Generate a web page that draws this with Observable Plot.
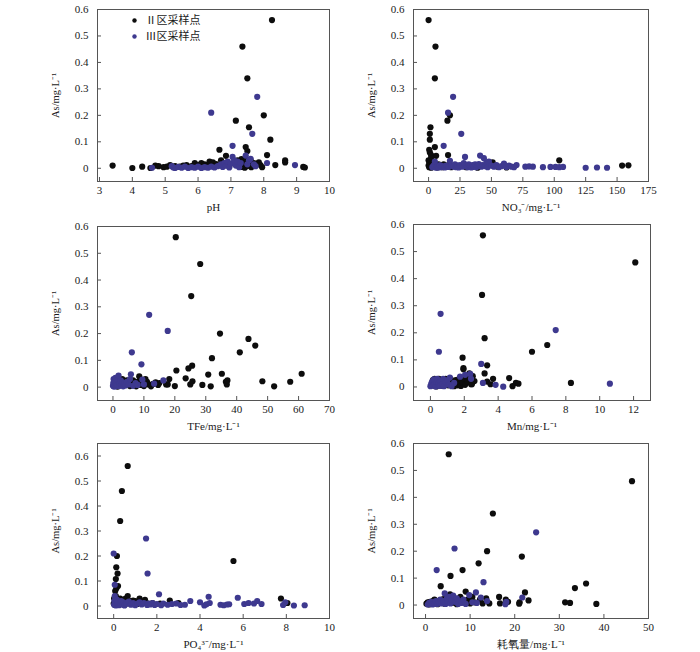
<!DOCTYPE html>
<html><head><meta charset="utf-8">
<script src="https://cdn.jsdelivr.net/npm/d3@7"></script>
<script src="https://cdn.jsdelivr.net/npm/@observablehq/plot@0.6"></script>
<style>
body{margin:0;background:#fff;}
#wrap{position:relative;width:700px;height:652px;}
.panel{position:absolute;}
</style></head><body><div id="wrap"></div>
<script>
// ---------- data: [x, As] pairs per panel and region ----------
const phII = [[3.4,0.010],[4.0,0.001],[4.3,0.006],[4.55,0.001],[4.7,0.010],[4.8,0.008],[4.95,0.004],[5.05,0.006],[5.15,0.012],[5.3,0.008],[5.45,0.006],[5.55,0.010],[5.65,0.012],[5.8,0.008],[5.9,0.020],[6.0,0.012],[6.1,0.020],[6.2,0.015],[6.3,0.008],[6.35,0.025],[6.45,0.022],[6.55,0.016],[6.65,0.070],[6.7,0.030],[6.8,0.012],[6.85,0.047],[6.9,0.020],[6.95,0.008],[7.15,0.180],[7.2,0.030],[7.3,0.015],[7.32,0.035],[7.34,0.005],[7.35,0.460],[7.36,0.025],[7.38,0.010],[7.4,0.030],[7.42,0.002],[7.44,0.018],[7.45,0.080],[7.46,0.035],[7.48,0.008],[7.5,0.340],[7.5,0.065],[7.52,0.022],[7.55,0.155],[7.56,0.012],[7.6,0.030],[7.62,0.004],[7.7,0.020],[7.75,0.010],[7.85,0.022],[7.9,0.012],[7.95,0.004],[8.0,0.200],[8.1,0.050],[8.2,0.108],[8.25,0.560],[8.35,0.012],[8.65,0.030],[8.65,0.022],[9.2,0.005],[9.25,0.003]];
const phIII = [[4.6,0.002],[5.2,0.008],[5.25,0.003],[5.3,0.001],[5.4,0.005],[5.5,0.002],[5.6,0.006],[5.7,0.001],[5.8,0.004],[5.9,0.002],[6.0,0.006],[6.1,0.001],[6.2,0.004],[6.3,0.002],[6.4,0.210],[6.4,0.006],[6.5,0.003],[6.6,0.008],[6.7,0.015],[6.75,0.005],[6.8,0.020],[6.85,0.010],[6.9,0.025],[6.95,0.003],[7.0,0.018],[7.05,0.085],[7.05,0.043],[7.1,0.030],[7.15,0.010],[7.2,0.025],[7.25,0.004],[7.3,0.020],[7.45,0.048],[7.5,0.015],[7.55,0.030],[7.6,0.036],[7.65,0.130],[7.7,0.015],[7.75,0.008],[7.8,0.270],[8.1,0.020],[8.95,0.012]];

const no3II = [[0,0.560],[5.5,0.460],[5,0.340],[17,0.200],[15,0.180],[1.5,0.155],[1,0.130],[1,0.108],[5,0.080],[0.5,0.070],[1,0.060],[2,0.050],[15.5,0.050],[6,0.047],[0,0.030],[2,0.038],[0.5,0.025],[1,0.018],[3,0.020],[0,0.010],[0.5,0.004],[1.5,0.012],[2,0.002],[3,0.008],[4,0.015],[5,0.005],[6,0.012],[7,0.003],[8,0.015],[9,0.008],[10,0.012],[11,0.004],[12,0.015],[13,0.010],[14,0.006],[16,0.012],[18,0.004],[22,0.008],[30,0.004],[35,0.006],[39,0.002],[51,0.022],[55,0.006],[62,0.003],[104,0.030],[154,0.010],[159,0.011]];
const no3III = [[3,0.004],[4,0.010],[5,0.025],[6,0.002],[7,0.006],[8,0.003],[9,0.012],[10,0.004],[11,0.008],[12,0.085],[13,0.003],[14,0.010],[15.5,0.210],[16,0.005],[17,0.028],[18,0.012],[19.5,0.270],[20,0.006],[21,0.015],[22,0.004],[23,0.010],[24,0.003],[25,0.012],[26,0.130],[27,0.006],[28,0.020],[29,0.043],[30,0.010],[31,0.004],[32,0.015],[33,0.007],[34,0.003],[35,0.012],[36,0.006],[37,0.015],[38,0.004],[39,0.010],[40,0.016],[41,0.048],[42,0.006],[43,0.012],[44,0.038],[45,0.008],[46,0.022],[47,0.004],[48,0.025],[50,0.010],[52,0.006],[54,0.012],[56,0.004],[58,0.008],[60,0.018],[62,0.005],[64,0.010],[66,0.006],[68,0.004],[70,0.012],[77,0.006],[80,0.007],[83,0.006],[91,0.004],[97,0.005],[101,0.005],[104,0.004],[107,0.005],[125,0.002],[134,0.003],[142,0.002]];

const tfeII = [[0.2,0.005],[0.5,0.020],[0.8,0.010],[1.2,0.030],[1.5,0.002],[2,0.020],[2.5,0.008],[3,0.030],[3.5,0.015],[4,0.010],[4.5,0.025],[5,0.020],[5.5,0.004],[6,0.012],[6.5,0.025],[7,0.015],[7.5,0.003],[8,0.020],[8.5,0.040],[9,0.008],[9.5,0.018],[10,0.004],[10.5,0.030],[11,0.020],[11.5,0.010],[12.3,0.003],[13,0.012],[13.8,0.018],[14.6,0.008],[15,0.015],[17.2,0.010],[17.7,0.010],[18.2,0.030],[20,0.004],[20.3,0.560],[20.5,0.062],[23.5,0.033],[24.4,0.070],[25,0.010],[25.3,0.340],[25.6,0.080],[25.7,0.022],[28.2,0.460],[28.9,0.008],[30.8,0.047],[31.6,0.003],[32,0.108],[34.6,0.200],[35.2,0.050],[36.5,0.020],[36.8,0.010],[37,0.025],[41,0.130],[43.8,0.180],[46,0.155],[48.3,0.022],[52.1,0.003],[57.3,0.020],[61,0.050]];
const tfeIII = [[0,0.005],[0.1,0.015],[0.2,0.030],[0.3,0.002],[0.4,0.010],[0.5,0.025],[0.6,0.006],[0.7,0.018],[0.8,0.035],[0.9,0.003],[1.0,0.012],[1.1,0.022],[1.3,0.008],[1.5,0.028],[1.8,0.043],[2.0,0.004],[2.2,0.015],[2.5,0.025],[2.8,0.008],[3.0,0.018],[3.3,0.003],[3.6,0.012],[4.0,0.006],[4.5,0.020],[5.0,0.010],[5.5,0.030],[5.8,0.048],[6.1,0.130],[6.5,0.005],[7.3,0.015],[8,0.008],[9.2,0.085],[9.5,0.028],[10,0.010],[11.7,0.270],[13.3,0.013],[16.3,0.025],[17.7,0.210]];

const mnII = [[0.1,0.010],[0.15,0.025],[0.2,0.005],[0.25,0.030],[0.3,0.015],[0.35,0.002],[0.4,0.020],[0.5,0.030],[0.55,0.008],[0.6,0.018],[0.7,0.025],[0.75,0.004],[0.8,0.012],[0.9,0.030],[1.0,0.020],[1.05,0.006],[1.1,0.015],[1.2,0.028],[1.3,0.010],[1.35,0.020],[1.4,0.003],[1.5,0.025],[1.55,0.012],[1.6,0.006],[1.65,0.018],[1.7,0.030],[1.75,0.010],[1.8,0.004],[1.85,0.022],[1.9,0.108],[1.9,0.015],[1.95,0.070],[1.95,0.065],[2.0,0.030],[2.05,0.008],[2.1,0.040],[2.2,0.020],[2.3,0.050],[2.4,0.010],[2.45,0.010],[2.5,0.040],[2.6,0.022],[3.05,0.340],[3.1,0.560],[3.2,0.180],[3.2,0.050],[3.35,0.080],[3.35,0.020],[3.55,0.010],[3.7,0.030],[4.65,0.033],[4.85,0.003],[5.05,0.015],[5.2,0.012],[6.0,0.130],[6.9,0.155],[8.3,0.015],[12.1,0.460]];
const mnIII = [[0,0.003],[0.05,0.012],[0.1,0.020],[0.15,0.006],[0.2,0.028],[0.25,0.010],[0.3,0.002],[0.35,0.018],[0.4,0.030],[0.45,0.008],[0.5,0.130],[0.5,0.015],[0.55,0.004],[0.6,0.270],[0.6,0.022],[0.7,0.010],[0.75,0.030],[0.8,0.003],[0.9,0.018],[1.0,0.025],[1.1,0.008],[1.15,0.035],[1.25,0.003],[1.4,0.015],[1.75,0.038],[2.05,0.045],[2.35,0.048],[2.4,0.030],[3.0,0.085],[3.1,0.015],[3.85,0.008],[4.3,0.001],[7.4,0.210],[10.6,0.012]];

const po4II = [[0.0,0.010],[0.02,0.030],[0.05,0.005],[0.07,0.060],[0.08,0.020],[0.1,0.108],[0.1,0.040],[0.12,0.155],[0.12,0.070],[0.15,0.200],[0.15,0.015],[0.18,0.130],[0.2,0.080],[0.2,0.025],[0.25,0.008],[0.3,0.340],[0.3,0.030],[0.35,0.012],[0.38,0.460],[0.45,0.020],[0.5,0.005],[0.55,0.030],[0.6,0.015],[0.65,0.560],[0.65,0.040],[0.7,0.010],[0.8,0.020],[0.9,0.022],[1.0,0.020],[1.1,0.008],[1.2,0.030],[1.3,0.015],[1.45,0.025],[1.6,0.010],[1.8,0.012],[2.15,0.010],[2.6,0.022],[3.0,0.012],[5.55,0.180],[7.75,0.030],[8.05,0.012]];
const po4III = [[0,0.210],[0.02,0.005],[0.03,0.020],[0.05,0.085],[0.05,0.040],[0.06,0.010],[0.08,0.030],[0.1,0.002],[0.12,0.015],[0.15,0.025],[0.18,0.008],[0.2,0.018],[0.25,0.003],[0.3,0.012],[0.35,0.020],[0.4,0.006],[0.45,0.015],[0.5,0.002],[0.6,0.010],[0.7,0.018],[0.8,0.005],[0.9,0.012],[1.0,0.003],[1.1,0.010],[1.2,0.015],[1.3,0.006],[1.4,0.012],[1.5,0.270],[1.55,0.004],[1.57,0.130],[1.6,0.010],[1.7,0.006],[1.8,0.012],[1.9,0.004],[2.0,0.008],[2.1,0.047],[2.2,0.003],[2.3,0.010],[2.5,0.005],[2.7,0.008],[2.9,0.010],[3.1,0.004],[3.3,0.005],[3.55,0.020],[4.0,0.015],[4.2,0.002],[4.3,0.007],[4.4,0.037],[4.45,0.012],[4.95,0.005],[5.1,0.003],[5.25,0.006],[5.35,0.007],[5.75,0.033],[6.05,0.008],[6.25,0.012],[6.5,0.010],[6.65,0.020],[6.85,0.008],[7.85,0.004],[7.95,0.015],[8.35,0.002],[8.85,0.003]];

const codII = [[0.2,0.005],[0.5,0.010],[0.8,0.002],[1.0,0.012],[1.3,0.006],[1.6,0.015],[2.0,0.020],[2.3,0.008],[2.7,0.003],[3.0,0.015],[3.4,0.070],[3.6,0.010],[4.0,0.022],[4.3,0.005],[4.7,0.030],[5.0,0.012],[5.2,0.560],[5.5,0.040],[5.6,0.108],[5.9,0.008],[6.3,0.025],[6.7,0.015],[7.0,0.003],[7.4,0.020],[7.8,0.030],[8.3,0.130],[8.5,0.010],[9.0,0.050],[9.5,0.020],[10.0,0.006],[10.5,0.030],[11.0,0.010],[11.9,0.155],[12.2,0.020],[12.8,0.006],[13.6,0.025],[13.8,0.200],[14.3,0.006],[15.1,0.340],[16.5,0.030],[16.7,0.006],[18.0,0.020],[18.5,0.012],[21.0,0.005],[21.1,0.010],[21.6,0.180],[22.3,0.047],[23.1,0.017],[31.3,0.010],[32.4,0.008],[33.5,0.063],[36.0,0.080],[38.3,0.004],[46.3,0.460]];
const codIII = [[0.5,0.002],[0.8,0.008],[1.0,0.004],[1.3,0.012],[1.6,0.002],[2.0,0.006],[2.3,0.015],[2.5,0.130],[2.6,0.004],[3.0,0.010],[3.3,0.020],[3.6,0.006],[4.0,0.015],[4.3,0.043],[4.5,0.004],[4.8,0.025],[5.0,0.010],[5.3,0.030],[5.6,0.006],[5.9,0.018],[6.2,0.035],[6.5,0.210],[6.6,0.012],[7.0,0.025],[7.3,0.004],[7.6,0.015],[8.0,0.008],[8.5,0.020],[9.0,0.004],[9.8,0.037],[10.5,0.010],[11.3,0.047],[11.5,0.008],[12.4,0.028],[13.0,0.085],[13.8,0.015],[17.9,0.003],[18.1,0.012],[21.7,0.028],[24.8,0.270]];

// tick values and labels
const yTicks = [0, 0.1, 0.2, 0.3, 0.4, 0.5, 0.6];
const phTicks = [3, 4, 5, 6, 7, 8, 9, 10];
const no3Ticks = [0, 25, 50, 75, 100, 125, 150, 175];
const tfeTicks = [0, 10, 20, 30, 40, 50, 60, 70];
const mnTicks = [0, 2, 4, 6, 8, 10, 12];
const po4Ticks = [0, 2, 4, 6, 8, 10];
const codTicks = [0, 10, 20, 30, 40, 50];
const yLabel = "As/mg·L⁻¹";
const xLabels = ["pH", "NO₃⁻/mg·L⁻¹", "TFe/mg·L⁻¹", "Mn/mg·L⁻¹", "PO₄³⁻/mg·L⁻¹", "耗氧量/mg·L⁻¹"];
const seriesNames = ["Ⅱ区采样点", "Ⅲ区采样点"];

const BLACK = "#0d0d0d", PURPLE = "#3e398f";

const panels = [
  {left:0,   top:0,   ml:97, mr:21, mt:9, mb:36, xd:[2.94,10],  xt:phTicks,  yd:[-0.05,0.6],  label:xLabels[0], II:phII,  III:phIII, legend:true},
  {left:350, top:0,   ml:63, mr:52, mt:9, mb:36, xd:[-12,175],  xt:no3Ticks, yd:[-0.05,0.6],  label:xLabels[1], II:no3II, III:no3III},
  {left:0,   top:217, ml:97, mr:21, mt:9, mb:34, xd:[-5,70],    xt:tfeTicks, yd:[-0.05,0.6],  label:xLabels[2], II:tfeII, III:tfeIII},
  {left:350, top:217, ml:63, mr:50, mt:7, mb:34, xd:[-1,13],    xt:mnTicks,  yd:[-0.05,0.6],  label:xLabels[3], II:mnII,  III:mnIII},
  {left:0,   top:434, ml:97, mr:21, mt:9, mb:33, xd:[-0.75,10], xt:po4Ticks, yd:[-0.05,0.65], label:xLabels[4], II:po4II, III:po4III},
  {left:350, top:434, ml:63, mr:52, mt:9, mb:33, xd:[-2.7,50],  xt:codTicks, yd:[-0.05,0.6],  label:xLabels[5], II:codII, III:codIII}
];

const toObj = a => a.map(([x, y]) => ({x, y}));
const wrap = document.getElementById("wrap");

for (const p of panels) {
  const W = 350, H = 217;
  const iw = W - p.ml - p.mr, ih = H - p.mt - p.mb;
  const marks = [
    Plot.frame({stroke: "#555", strokeWidth: 1}),
    Plot.tickY(yTicks, {y: d => d, insetRight: iw - 4, stroke: "#555"}),
    Plot.tickX(p.xt, {x: d => d, insetTop: ih - 4, stroke: "#555"}),
    Plot.axisY(yTicks, {tickSize: 0, tickPadding: 9, label: null, tickFormat: d => d === 0 ? "0" : d3.format(".1f")(d)}),
    Plot.axisX(p.xt, {tickSize: 0, tickPadding: 5, label: null}),
    Plot.dot(toObj(p.II), {x: "x", y: "y", r: 3.1, fill: BLACK}),
    Plot.dot(toObj(p.III), {x: "x", y: "y", r: 3.1, fill: PURPLE}),
    Plot.text([p.label], {text: d => d, frameAnchor: "bottom", dy: 26, lineAnchor: "middle", fontSize: 11}),
    Plot.text([yLabel], {text: d => d, frameAnchor: "left", dx: -42, rotate: -90, textAnchor: "middle", lineAnchor: "middle", fontSize: 10.5})
  ];
  if (p.legend) {
    marks.push(
      Plot.dot([seriesNames[0]], {frameAnchor: "top-left", dx: 37, dy: 11, r: 2.2, fill: BLACK}),
      Plot.dot([seriesNames[1]], {frameAnchor: "top-left", dx: 37, dy: 27, r: 2.2, fill: PURPLE}),
      Plot.text([seriesNames[0]], {text: d => d, frameAnchor: "top-left", dx: 48, dy: 11, textAnchor: "start", lineAnchor: "middle", fontSize: 11, fontFamily: "'Noto Sans CJK SC'"}),
      Plot.text([seriesNames[1]], {text: d => d, frameAnchor: "top-left", dx: 48, dy: 27, textAnchor: "start", lineAnchor: "middle", fontSize: 11, fontFamily: "'Noto Sans CJK SC'"})
    );
  }
  const chart = Plot.plot({
    width: W, height: H,
    marginLeft: p.ml, marginRight: p.mr, marginTop: p.mt, marginBottom: p.mb,
    x: {domain: p.xd},
    y: {domain: p.yd},
    style: {fontFamily: "'Liberation Serif', serif", fontSize: "11px", color: "#1a1a1a", background: "transparent", overflow: "visible"},
    marks
  });
  const div = document.createElement("div");
  div.className = "panel";
  div.style.left = p.left + "px";
  div.style.top = p.top + "px";
  div.appendChild(chart);
  wrap.appendChild(div);
}
</script></body></html>
